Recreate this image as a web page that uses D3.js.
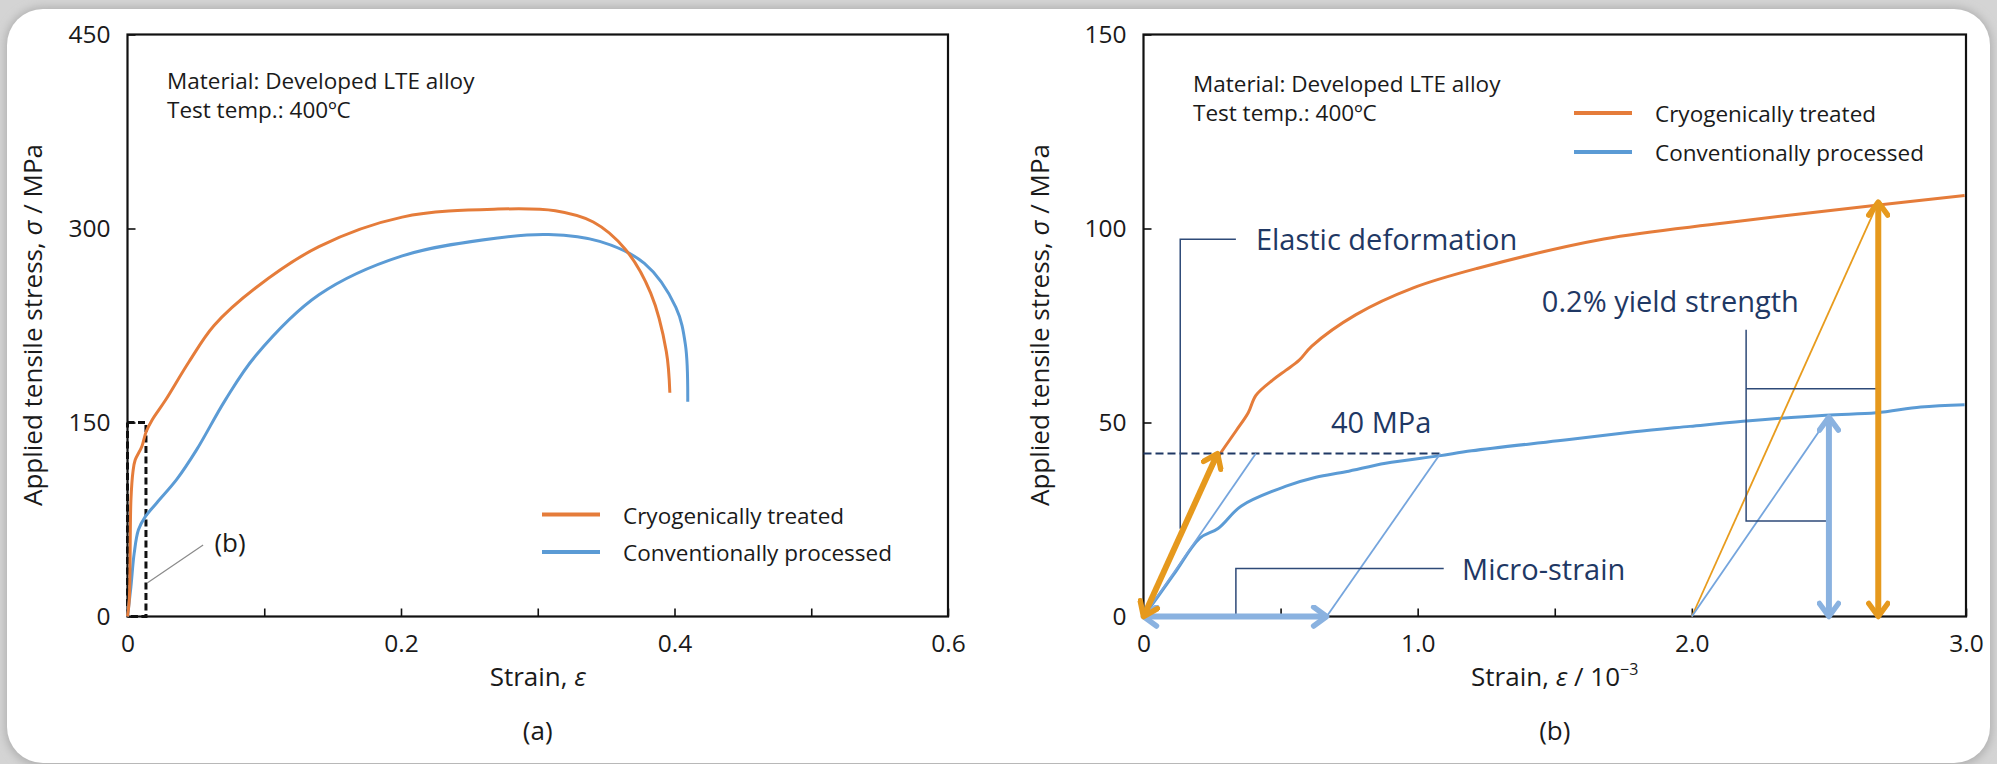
<!DOCTYPE html>
<html><head><meta charset="utf-8">
<script src="https://cdn.jsdelivr.net/npm/d3@7"></script>
<style>
html,body{margin:0;padding:0;background:#fff;}
svg{display:block;font-family:"Open Sans",sans-serif;}
</style></head>
<body>
<svg id="chart" width="1997" height="764"></svg>
<script>
// ---------- DATA ----------
// Panel (a): full curves
const aCryoStrain = [0, 0.0013, 0.0025, 0.004, 0.0056, 0.0105, 0.0137, 0.018, 0.0276, 0.045, 0.0633, 0.0936, 0.14, 0.2009, 0.2709, 0.3128, 0.3406, 0.364, 0.3826, 0.394, 0.3966];
const aCryoStress = [0, 13, 90, 112, 121, 131.5, 143, 152, 167, 197, 225, 254, 286, 308.8, 315, 313.7, 305, 284, 250, 205, 173];
const aConvStrain = [0, 0.0025, 0.0049, 0.008, 0.0129, 0.0215, 0.036, 0.0506, 0.0716, 0.0937, 0.14, 0.2009, 0.2707, 0.308, 0.3453, 0.378, 0.401, 0.408, 0.4097];
const aConvStress = [0, 23, 49, 67, 77, 88, 106, 129, 167.5, 201.6, 248.7, 278.8, 292.7, 295.3, 290, 273, 239, 210, 166];
// Panel (b): zoomed region, strain in 1e-3
const bCryoStrain = [0, 0.1, 0.2, 0.267, 0.284, 0.339, 0.382, 0.41, 0.472, 0.52, 0.567, 0.614, 0.775, 0.984, 1.216, 1.679, 2.118, 2.673, 2.995];
const bCryoStress = [0, 15.5, 31, 40.5, 42.4, 48, 52.5, 57, 61, 63.5, 66, 69.7, 77.8, 84.7, 89.7, 97.3, 101.4, 106, 108.5];
const bConvStrain = [0, 0.109, 0.2057, 0.272, 0.357, 0.52, 0.629, 0.738, 0.883, 1.077, 1.197, 1.512, 1.79, 1.993, 2.187, 2.488, 2.673, 2.835, 2.995];
const bConvStress = [0, 10.7, 20.2, 22.7, 28.5, 33.6, 35.9, 37.3, 39.5, 41.4, 42.7, 45.3, 47.6, 49.0, 50.3, 51.9, 52.5, 54, 54.6];

const seriesNames = ["Cryogenically treated", "Conventionally processed"];
const aXTicks = [0, 0.1, 0.2, 0.3, 0.4, 0.5, 0.6];
const aXLabels = ["0", "", "0.2", "", "0.4", "", "0.6"];
const aYTicks = [0, 150, 300, 450];
const aYLabels = ["0", "150", "300", "450"];
const bXTicks = [0, 0.5, 1.0, 1.5, 2.0, 2.5, 3.0];
const bXLabels = ["0", "", "1.0", "", "2.0", "", "3.0"];
const bYTicks = [0, 50, 100, 150];
const bYLabels = ["0", "50", "100", "150"];

// Annotation values in panel (b)
const thresholdStress = 42;          // "40 MPa" level line
const thresholdEnd = 1.09;
const cryoElasticEnd = [0.27, 42];   // thick orange elastic arrow
const convElasticEnd = [0.41, 42];   // thin blue elastic line
const microStrain = 0.668;           // offset for blue unloading line
const convUnloadEnd = [1.083, 42];
const offsetStrain = 2.0;            // 0.2% offset
const cryoYield = [2.68, 106.8];
const convYield = [2.5, 51.4];
// panel (a) zoom box
const boxStrain = 0.0135, boxStress = 150;

// ---------- SETUP ----------
const svg = d3.select("#chart");
const defs = svg.append("defs");
const sh = defs.append("filter").attr("id","sh").attr("x","-5%").attr("y","-5%").attr("width","110%").attr("height","110%");
sh.append("feGaussianBlur").attr("stdDeviation", 4);

svg.append("rect").attr("width",1997).attr("height",764).attr("fill","#d4d4d4");
svg.append("rect").attr("x",5).attr("y",7).attr("width",1987).attr("height",760).attr("rx",38).attr("fill","#b0b0b0").attr("filter","url(#sh)");
svg.append("rect").attr("x",7).attr("y",9).attr("width",1983).attr("height",754).attr("rx",36).attr("fill","#ffffff");

const ORANGE = "#E57C3A", BLUE = "#5B9BD5";
const ARR_OR = "#E6991D", ARR_BL = "#8AB2E0";
const THIN_BL = "#75A5DD", THIN_OR = "#E89C1E";
const NAVY = "#1F3864", NAVYL = "#2E4A78";

function marker(id, color) {
  defs.append("marker").attr("id", id)
    .attr("viewBox", "-18 -12 22 24").attr("refX", 0).attr("refY", 0)
    .attr("markerWidth", 22).attr("markerHeight", 24)
    .attr("markerUnits", "userSpaceOnUse").attr("orient", "auto-start-reverse")
    .append("path").attr("d", "M-13,-9.5 L0,0 L-13,9.5")
    .attr("fill", "none").attr("stroke", color).attr("stroke-width", 5.5)
    .attr("stroke-linecap", "round").attr("stroke-linejoin", "round");
}
marker("arrOr", ARR_OR);
marker("arrBl", ARR_BL);

const zip = (xs, ys) => xs.map((x, i) => [x, ys[i]]);

function panel(cfg) {
  const g = svg.append("g");
  const x = d3.scaleLinear().domain(cfg.xDomain).range([cfg.left, cfg.right]);
  const y = d3.scaleLinear().domain(cfg.yDomain).range([cfg.bottom, cfg.top]);
  const xa = g.append("g").attr("transform", `translate(0,${cfg.bottom})`)
    .call(d3.axisBottom(x).tickValues(cfg.xTicks).tickSizeInner(-8).tickSizeOuter(0).tickPadding(18)
      .tickFormat((d, i) => cfg.xLabels[i]));
  const ya = g.append("g").attr("transform", `translate(${cfg.left},0)`)
    .call(d3.axisLeft(y).tickValues(cfg.yTicks).tickSizeInner(-8).tickSizeOuter(0).tickPadding(17)
      .tickFormat((d, i) => cfg.yLabels[i]));
  [xa, ya].forEach(a => {
    a.select(".domain").remove();
    a.selectAll("line").attr("stroke", "#111").attr("stroke-width", 1.6);
    a.selectAll("text").attr("font-size", 24.5).attr("font-weight", 400).attr("fill", "#1a1a1a")
      .attr("font-family", "'Open Sans', sans-serif");
  });
  g.append("rect").attr("x", cfg.left).attr("y", cfg.top)
    .attr("width", cfg.right - cfg.left).attr("height", cfg.bottom - cfg.top)
    .attr("fill", "none").attr("stroke", "#111").attr("stroke-width", 2.2);
  g.append("text").attr("transform", `translate(${cfg.yTitleX},325) rotate(-90)`)
    .attr("text-anchor", "middle").attr("font-size", 26).attr("fill", "#1a1a1a")
    .call(t => {
      t.append("tspan").text("Applied tensile stress, ");
      t.append("tspan").attr("font-style", "italic").text("σ");
      t.append("tspan").text(" / MPa");
    });
  const cx = (cfg.left + cfg.right) / 2;
  const xt = g.append("text").attr("x", cx).attr("y", 686).attr("text-anchor", "middle")
    .attr("font-size", 26).attr("fill", "#1a1a1a");
  xt.append("tspan").text("Strain, ");
  xt.append("tspan").attr("font-style", "italic").text("ε");
  if (cfg.xUnit) {
    xt.append("tspan").text(" / 10");
    xt.append("tspan").attr("font-size", 16).attr("dy", -11).text("−3");
  }
  g.append("text").attr("x", cx).attr("y", 740).attr("text-anchor", "middle")
    .attr("font-size", 26).attr("fill", "#1a1a1a").text(cfg.caption);
  const mt = g.append("g").attr("font-size", 22.5).attr("fill", "#1a1a1a");
  mt.append("text").attr("x", cfg.noteX).attr("y", cfg.noteY).text("Material: Developed LTE alloy");
  mt.append("text").attr("x", cfg.noteX).attr("y", cfg.noteY + 29).text("Test temp.: 400ºC");
  const lg = g.append("g");
  [ORANGE, BLUE].forEach((c, i) => {
    const yy = cfg.legY + i * cfg.legGap;
    lg.append("line").attr("x1", cfg.legX).attr("x2", cfg.legX + 58).attr("y1", yy).attr("y2", yy)
      .attr("stroke", c).attr("stroke-width", 4);
    lg.append("text").attr("x", cfg.legX + 81).attr("y", yy + 9).attr("font-size", 22.5)
      .attr("fill", "#1a1a1a").text(seriesNames[i]);
  });
  return {g, x, y};
}

// ---------- PANEL (a) ----------
const A = panel({
  xDomain: [0, 0.6], yDomain: [0, 450], left: 127.5, right: 948, top: 34.5, bottom: 616.5,
  xTicks: aXTicks, xLabels: aXLabels, yTicks: aYTicks, yLabels: aYLabels,
  yTitleX: 42, caption: "(a)", noteX: 167, noteY: 89, legX: 542, legY: 514.5, legGap: 37.5
});
{
  const {g, x, y} = A;
  const line = d3.line().x(d => x(d[0])).y(d => y(d[1])).curve(d3.curveCatmullRom.alpha(0.5));
  g.append("path").attr("d", d3.line()([[x(0), y(boxStress)], [x(boxStrain), y(boxStress)], [x(boxStrain), y(0)], [x(0), y(0)], [x(0), y(boxStress)]]))
    .attr("fill", "none").attr("stroke", "#111").attr("stroke-width", 3).attr("stroke-dasharray", "7,3.5");
  g.append("path").attr("d", line(zip(aConvStrain, aConvStress))).attr("fill", "none").attr("stroke", BLUE).attr("stroke-width", 3);
  g.append("path").attr("d", line(zip(aCryoStrain, aCryoStress))).attr("fill", "none").attr("stroke", ORANGE).attr("stroke-width", 3);
  g.append("line").attr("x1", x(0.0553)).attr("y1", y(55.2)).attr("x2", x(0.0144)).attr("y2", y(25.9))
    .attr("stroke", "#8a8a8a").attr("stroke-width", 1.2);
  g.append("text").attr("x", x(0.075)).attr("y", y(56.7) + 9).attr("text-anchor", "middle")
    .attr("font-size", 26).attr("fill", "#1a1a1a").text("(b)");
}

// ---------- PANEL (b) ----------
const B = panel({
  xDomain: [0, 3], yDomain: [0, 150], left: 1143.5, right: 1966, top: 34.5, bottom: 616.5,
  xTicks: bXTicks, xLabels: bXLabels, yTicks: bYTicks, yLabels: bYLabels, xUnit: true,
  yTitleX: 1049, caption: "(b)", noteX: 1193, noteY: 92, legX: 1574, legY: 113, legGap: 39
});
{
  const {g, x, y} = B;
  const P = (s, v) => [x(s), y(v)];
  const line = d3.line().x(d => x(d[0])).y(d => y(d[1])).curve(d3.curveCatmullRom.alpha(0.5));
  const straight = d3.line();
  g.append("path").attr("d", line(zip(bConvStrain, bConvStress))).attr("fill", "none").attr("stroke", BLUE).attr("stroke-width", 3);
  g.append("path").attr("d", line(zip(bCryoStrain, bCryoStress))).attr("fill", "none").attr("stroke", ORANGE).attr("stroke-width", 3);
  g.append("line").attr("x1", x(0)).attr("x2", x(thresholdEnd)).attr("y1", y(thresholdStress)).attr("y2", y(thresholdStress))
    .attr("stroke", NAVY).attr("stroke-width", 2).attr("stroke-dasharray", "8,4");
  const thin = (pts, c) => g.append("path").attr("d", straight(pts.map(p => P(p[0], p[1]))))
    .attr("fill", "none").attr("stroke", c).attr("stroke-width", 1.8);
  thin([[0, 0], convElasticEnd], THIN_BL);
  thin([[microStrain, 0], convUnloadEnd], THIN_BL);
  thin([[offsetStrain, 0], cryoYield], THIN_OR);
  thin([[offsetStrain, 0], convYield], THIN_BL);
  const br = pts => g.append("path").attr("d", straight(pts.map(p => P(p[0], p[1]))))
    .attr("fill", "none").attr("stroke", NAVYL).attr("stroke-width", 1.5);
  br([[0.337, 97.2], [0.134, 97.2], [0.134, 22.6]]);
  br([[0.337, 0], [0.337, 12.4], [1.095, 12.4]]);
  br([[2.198, 73.9], [2.198, 24.6], [2.5, 24.6]]);
  br([[2.198, 58.7], [2.677, 58.7]]);
  const arrow = (p1, p2, c, m) => g.append("path").attr("d", straight([P(p1[0], p1[1]), P(p2[0], p2[1])]))
    .attr("fill", "none").attr("stroke", c).attr("stroke-width", 6)
    .attr("marker-start", `url(#${m})`).attr("marker-end", `url(#${m})`);
  arrow([0, 0], [microStrain, 0], ARR_BL, "arrBl");
  arrow([convYield[0], 0], convYield, ARR_BL, "arrBl");
  arrow([cryoYield[0], 0], cryoYield, ARR_OR, "arrOr");
  arrow([0, 0], cryoElasticEnd, ARR_OR, "arrOr");
  const ann = (s, v, t) => g.append("text").attr("x", x(s)).attr("y", y(v)).attr("font-size", 29)
    .attr("fill", NAVY).text(t);
  ann(0.41, 94.5, "Elastic deformation");
  ann(0.684, 47.2, "40 MPa");
  ann(1.162, 9.4, "Micro-strain");
  ann(1.453, 78.5, "0.2% yield strength");
}
</script>
</body></html>
